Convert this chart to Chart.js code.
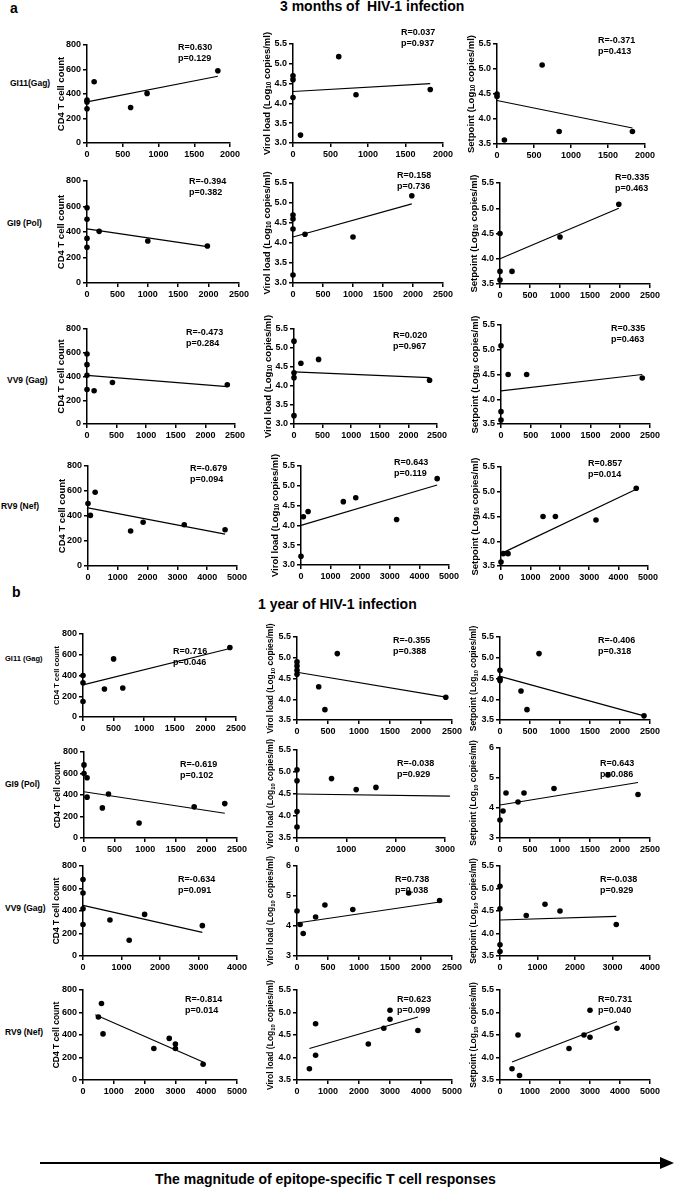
<!DOCTYPE html>
<html>
<head>
<meta charset="utf-8">
<script src="https://cdn.jsdelivr.net/npm/chart.js@4.4.1/dist/chart.umd.min.js"></script>
<style>
body { margin: 0; width: 685px; height: 1189px; background: #fff; position: relative; overflow: hidden;
       font-family: "Liberation Sans", Arial, sans-serif; font-weight: bold; color: #000; }
.t { position: absolute; white-space: nowrap; transform: translateY(-50%); }
canvas { position: absolute; }
#arrow { position: absolute; left: 40px; top: 1162px; width: 622px; height: 2px; background: #000; }
#arrowHead { position: absolute; left: 660px; top: 1157px; width: 0; height: 0;
             border-top: 6px solid transparent; border-bottom: 6px solid transparent; border-left: 14px solid #000; }
</style>
</head>
<body>
<div class="t" style="left:10px;top:8px;font-size:14px">a</div>
<div class="t" style="left:280px;top:6px;font-size:14px">3 months of&nbsp; HIV-1 infection</div>
<div class="t" style="left:10px;top:83px;font-size:8.5px">GI11(Gag)</div>
<div class="t" style="left:7px;top:223px;font-size:8.5px">GI9 (Pol)</div>
<div class="t" style="left:7px;top:380px;font-size:8.5px">VV9 (Gag)</div>
<div class="t" style="left:1px;top:506px;font-size:8.5px">RV9 (Nef)</div>

<div class="t" style="left:12px;top:592px;font-size:14px">b</div>
<div class="t" style="left:258px;top:604px;font-size:14px">1 year of HIV-1 infection</div>
<div class="t" style="left:5px;top:658px;font-size:7.5px">GI11 (Gag)</div>
<div class="t" style="left:5px;top:784px;font-size:8.5px">GI9 (Pol)</div>
<div class="t" style="left:5px;top:908px;font-size:8.5px">VV9 (Gag)</div>
<div class="t" style="left:5px;top:1032px;font-size:8.5px">RV9 (Nef)</div>

<div id="arrow"></div><div id="arrowHead"></div>
<div class="t" style="left:155px;top:1179px;font-size:14px">The magnitude of epitope-specific T cell responses</div>

<script>
// ---- 数据：[表位应答强度, 测量值] ----
// a: 感染3个月
const a_gi11_cd4 = [[0,350],[0,335],[0,280],[100,500],[610,290],[840,405],[1830,590]];
const a_gi11_vl  = [[0,4.7],[0,4.6],[0,4.15],[100,3.2],[610,5.18],[840,4.22],[1830,4.35]];
const a_gi11_sp  = [[0,4.5],[0,4.45],[100,3.58],[610,5.08],[840,3.75],[1830,3.75]];
const a_gi9_cd4  = [[0,590],[0,500],[0,350],[0,280],[200,405],[1000,330],[1980,290]];
const a_gi9_vl   = [[0,4.7],[0,4.6],[0,4.35],[0,3.2],[200,4.22],[1000,4.15],[1980,5.18]];
const a_gi9_sp   = [[0,4.5],[0,3.75],[0,3.58],[200,3.75],[1000,4.43],[1980,5.08]];
const a_vv9_cd4  = [[0,590],[0,500],[0,410],[0,290],[120,280],[430,350],[2370,330]];
const a_vv9_vl   = [[0,5.18],[0,4.35],[0,4.22],[0,3.22],[120,4.6],[430,4.7],[2370,4.15]];
const a_vv9_sp   = [[0,5.08],[0,3.75],[0,3.58],[120,4.5],[430,4.5],[2370,4.43]];
const a_rv9_cd4  = [[0,500],[80,405],[240,590],[1430,280],[1850,350],[3230,330],[4600,290]];
const a_rv9_vl   = [[0,3.22],[80,4.22],[240,4.35],[1430,4.6],[1850,4.7],[3230,4.15],[4600,5.18]];
const a_rv9_sp   = [[0,3.58],[80,3.75],[240,3.75],[1430,4.5],[1850,4.5],[3230,4.43],[4600,5.07]];
// b: 感染1年
const b_gi11_cd4 = [[0,400],[0,330],[0,150],[350,270],[500,560],[650,280],[2400,670]];
const b_gi11_vl  = [[0,4.9],[0,4.8],[0,4.7],[0,4.6],[350,4.3],[450,3.75],[650,5.1],[2400,4.05]];
const b_gi11_sp  = [[0,4.7],[0,4.5],[0,4.45],[350,4.2],[450,3.75],[650,5.1],[2400,3.6]];
const b_gi9_cd4  = [[0,680],[0,600],[50,560],[50,380],[300,280],[400,410],[900,140],[1800,290],[2300,320]];
const b_gi9_vl   = [[0,5.05],[0,4.8],[0,4.1],[0,3.75],[700,4.85],[1200,4.6],[1600,4.65],[3100,4.3]];
const b_gi9_sp   = [[0,3.6],[50,3.9],[100,4.5],[300,4.2],[400,4.5],[900,4.65],[1800,5.1],[2300,4.45]];
const b_vv9_cd4  = [[0,680],[0,560],[0,420],[0,280],[700,320],[1200,140],[1600,370],[3100,270]];
const b_vv9_vl   = [[0,4.5],[50,4.05],[100,3.75],[300,4.3],[450,4.7],[900,4.55],[1800,5.1],[2300,4.85]];
const b_vv9_sp   = [[0,5.05],[0,4.55],[0,3.75],[0,3.6],[700,4.4],[1200,4.65],[1600,4.5],[3100,4.2]];
const b_rv9_cd4  = [[500,560],[600,680],[650,410],[2300,280],[2800,370],[3000,320],[3000,280],[3900,140]];
const b_rv9_vl   = [[400,3.75],[600,4.75],[600,4.05],[2300,4.3],[2800,4.65],[3000,4.85],[3000,5.05],[3900,4.6]];
const b_rv9_sp   = [[400,3.75],[600,4.5],[650,3.6],[2300,4.2],[2800,4.5],[3000,5.05],[3000,4.45],[3900,4.65]];

// 回归线两端
const fits = [
  [[0,335],[1830,545]],  [[0,4.3],[1830,4.5]],   [[0,4.37],[1830,3.82]],
  [[0,425],[1980,285]],  [[0,4.15],[1980,4.98]], [[0,4.0],[1980,5.0]],
  [[0,410],[2370,315]],  [[0,4.37],[2370,4.22]], [[0,4.17],[2370,4.5]],
  [[0,465],[4600,255]],  [[0,4.0],[4600,5.02]],  [[0,3.75],[4600,5.05]],
  [[0,310],[2400,660]],  [[0,4.65],[2400,4.05]], [[0,4.55],[2400,3.6]],
  [[0,430],[2300,230]],  [[0,4.5],[3100,4.45]],  [[0,4.1],[2300,4.85]],
  [[0,450],[3100,210]],  [[0,4.1],[2300,4.8]],   [[0,4.3],[3100,4.38]],
  [[400,580],[3900,160]],[[400,4.2],[3900,4.9]], [[400,3.9],[3900,4.8]]
];

const rValues = ['R=0.630','R=0.037','R=-0.371','R=-0.394','R=0.158','R=0.335','R=-0.473','R=0.020','R=0.335',
                 'R=-0.679','R=0.643','R=0.857','R=0.716','R=-0.355','R=-0.406','R=-0.619','R=-0.038','R=0.643',
                 'R=-0.634','R=0.738','R=-0.038','R=-0.814','R=0.623','R=0.731'];
const pValues = ['p=0.129','p=0.937','p=0.413','p=0.382','p=0.736','p=0.463','p=0.284','p=0.967','p=0.463',
                 'p=0.094','p=0.119','p=0.014','p=0.046','p=0.388','p=0.318','p=0.102','p=0.929','p=0.086',
                 'p=0.091','p=0.038','p=0.929','p=0.014','p=0.099','p=0.040'];

// 刻度
const xTicks2000 = [0,500,1000,1500,2000];
const xTicks2500 = [0,500,1000,1500,2000,2500];
const xTicks3500 = [0,1000,2000,3000];
const xTicks4000 = [0,1000,2000,3000,4000];
const xTicks5000 = [0,1000,2000,3000,4000,5000];
const cd4Ticks   = [0,200,400,600,800];
const log30Ticks = [3.0,3.5,4.0,4.5,5.0,5.5];
const log35Ticks = [3.5,4.0,4.5,5.0,5.5];
const log36Ticks = [3,4,5,6];

// 纵轴标题
const cd4Title = [['CD4 T cell count', false]];
const vlTitle  = [['Virol load (Log', false], ['10', true], [' copies/ml)', false]];
const spTitle  = [['Setpoint (Log', false], ['10', true], [' copies/ml)', false]];

// ---- 版面：每个小图 [绘图区 left, top, right, bottom], 注释位置, 纵轴标题字号 ----
const panels = [
  { pts: a_gi11_cd4, xt: xTicks2000, yt: cd4Ticks,   title: cd4Title, box: [87,45,230,143],   note: [178,48],  fs: 9.5 },
  { pts: a_gi11_vl,  xt: xTicks2000, yt: log30Ticks, title: vlTitle,  box: [293,44,443,143],  note: [401,33],  fs: 9.5 },
  { pts: a_gi11_sp,  xt: xTicks2000, yt: log35Ticks, title: spTitle,  box: [497,44,645,144],  note: [598,41],  fs: 9.5 },
  { pts: a_gi9_cd4,  xt: xTicks2500, yt: cd4Ticks,   title: cd4Title, box: [87,181,239,283],  note: [189,182], fs: 9.5 },
  { pts: a_gi9_vl,   xt: xTicks2500, yt: log30Ticks, title: vlTitle,  box: [293,183,443,283], note: [397,176], fs: 9.5 },
  { pts: a_gi9_sp,   xt: xTicks2500, yt: log35Ticks, title: spTitle,  box: [500,183,650,284], note: [615,178], fs: 9.5 },
  { pts: a_vv9_cd4,  xt: xTicks2500, yt: cd4Ticks,   title: cd4Title, box: [87,329,235,424],  note: [186,333], fs: 9.5 },
  { pts: a_vv9_vl,   xt: xTicks2500, yt: log30Ticks, title: vlTitle,  box: [294,329,437,424], note: [393,336], fs: 9.5 },
  { pts: a_vv9_sp,   xt: xTicks2500, yt: log35Ticks, title: spTitle,  box: [501,325,650,424], note: [611,329], fs: 9.5 },
  { pts: a_rv9_cd4,  xt: xTicks5000, yt: cd4Ticks,   title: cd4Title, box: [88,466,237,566],  note: [190,469], fs: 9.5 },
  { pts: a_rv9_vl,   xt: xTicks5000, yt: log30Ticks, title: vlTitle,  box: [301,466,449,565], note: [394,463], fs: 9.5 },
  { pts: a_rv9_sp,   xt: xTicks5000, yt: log35Ticks, title: spTitle,  box: [501,467,648,566], note: [588,464], fs: 9.5 },
  { pts: b_gi11_cd4, xt: xTicks2500, yt: cd4Ticks,   title: cd4Title, box: [83,634,236,717],  note: [173,652], fs: 7.5 },
  { pts: b_gi11_vl,  xt: xTicks2500, yt: log35Ticks, title: vlTitle,  box: [297,637,452,720], note: [393,641], fs: 8.5 },
  { pts: b_gi11_sp,  xt: xTicks2500, yt: log35Ticks, title: spTitle,  box: [500,637,650,720], note: [598,641], fs: 8.5 },
  { pts: b_gi9_cd4,  xt: xTicks2500, yt: cd4Ticks,   title: cd4Title, box: [84,752,237,838],  note: [180,765], fs: 8.5 },
  { pts: b_gi9_vl,   xt: xTicks3500, yt: log35Ticks, title: vlTitle,  box: [297,750,445,838], note: [397,764], fs: 8.5 },
  { pts: b_gi9_sp,   xt: xTicks2500, yt: log36Ticks, title: spTitle,  box: [500,748,650,838], note: [600,764], fs: 8.5 },
  { pts: b_vv9_cd4,  xt: xTicks4000, yt: cd4Ticks,   title: cd4Title, box: [83,866,237,956],  note: [178,880], fs: 8.5 },
  { pts: b_vv9_vl,   xt: xTicks2500, yt: log36Ticks, title: vlTitle,  box: [297,866,452,956], note: [395,880], fs: 8.5 },
  { pts: b_vv9_sp,   xt: xTicks4000, yt: log35Ticks, title: spTitle,  box: [500,866,650,956], note: [600,880], fs: 8.5 },
  { pts: b_rv9_cd4,  xt: xTicks5000, yt: cd4Ticks,   title: cd4Title, box: [83,990,237,1080], note: [185,1000], fs: 8.5 },
  { pts: b_rv9_vl,   xt: xTicks5000, yt: log35Ticks, title: vlTitle,  box: [297,990,452,1080], note: [397,1000], fs: 8.5 },
  { pts: b_rv9_sp,   xt: xTicks5000, yt: log35Ticks, title: spTitle,  box: [500,990,650,1080], note: [598,1000], fs: 8.5 }
];

const PL = 62, PT = 24, PR = 20, PB = 20;
const FONT = '"Liberation Sans", Arial, sans-serif';

// 画纵轴标题（带下标）和 R/p 注释
const decorPlugin = {
  id: 'decor',
  afterDraw(chart) {
    const o = chart.options.plugins.decor;
    const ctx = chart.ctx, a = chart.chartArea;
    const fs = o.fs, sfs = o.fs * 0.68;
    ctx.save();
    ctx.fillStyle = '#000';
    ctx.translate(a.left - 26, (a.top + a.bottom) / 2);
    ctx.rotate(-Math.PI / 2);
    let total = 0;
    o.title.forEach(([txt, sub]) => {
      ctx.font = 'bold ' + (sub ? sfs : fs) + 'px ' + FONT;
      total += ctx.measureText(txt).width;
    });
    let x = -total / 2;
    ctx.textBaseline = 'middle';
    o.title.forEach(([txt, sub]) => {
      ctx.font = 'bold ' + (sub ? sfs : fs) + 'px ' + FONT;
      ctx.fillText(txt, x, sub ? fs * 0.26 : 0);
      x += ctx.measureText(txt).width;
    });
    ctx.restore();

    ctx.save();
    ctx.fillStyle = '#000';
    ctx.font = 'bold 9px ' + FONT;
    ctx.textBaseline = 'middle';
    ctx.fillText(o.r, o.nx, o.ny);
    ctx.fillText(o.p, o.nx, o.ny + 11);
    ctx.restore();
  }
};

function axis(ticks, isY) {
  const dec = ticks.some(v => !Number.isInteger(v));
  return {
    type: 'linear',
    min: ticks[0],
    max: ticks[ticks.length - 1],
    afterBuildTicks: s => { s.ticks = ticks.map(v => ({ value: v })); },
    afterFit: s => { if (isY) s.width = PL; else s.height = PB; },
    ticks: {
      color: '#000', padding: 2, autoSkip: false, maxRotation: 0,
      font: { family: FONT, size: 9, weight: 'bold' },
      callback: v => dec ? Number(v).toFixed(1) : String(v)
    },
    grid: { drawOnChartArea: false, drawTicks: true, tickLength: 4, color: '#000', lineWidth: 1.5 },
    border: { display: true, color: '#000', width: 1.5 }
  };
}

panels.forEach((p, i) => {
  const [l, t, r, b] = p.box;
  const cv = document.createElement('canvas');
  const w = r - l + PL + PR, h = b - t + PT + PB;
  cv.width = w; cv.height = h;
  cv.style.left = (l - PL) + 'px';
  cv.style.top = (t - PT) + 'px';
  cv.style.width = w + 'px'; cv.style.height = h + 'px';
  document.body.appendChild(cv);

  new Chart(cv, {
    type: 'scatter',
    data: {
      datasets: [
        { data: p.pts.map(d => ({ x: d[0], y: d[1] })), pointRadius: 2.8, pointBackgroundColor: '#000',
          pointBorderColor: '#000', pointBorderWidth: 0, clip: false },
        { type: 'line', data: fits[i].map(d => ({ x: d[0], y: d[1] })), borderColor: '#000', borderWidth: 1.2,
          pointRadius: 0, fill: false, clip: false }
      ]
    },
    options: {
      responsive: false, animation: false, events: [],
      layout: { padding: { left: 0, top: PT, right: PR, bottom: 0 } },
      plugins: {
        legend: { display: false }, tooltip: { enabled: false },
        decor: { title: p.title, fs: p.fs, r: rValues[i], p: pValues[i], nx: p.note[0] - (l - PL), ny: p.note[1] - (t - PT) }
      },
      scales: { x: axis(p.xt, false), y: axis(p.yt, true) }
    },
    plugins: [decorPlugin]
  });
});
</script>
</body>
</html>
